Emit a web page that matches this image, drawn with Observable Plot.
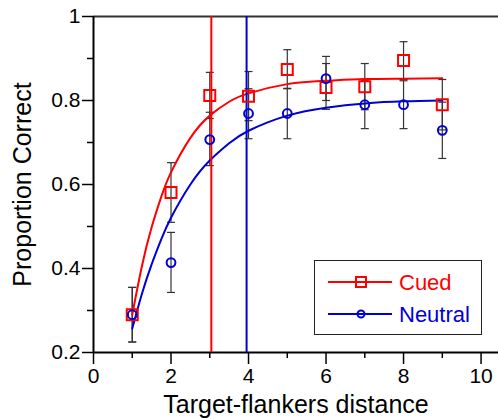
<!DOCTYPE html>
<html><head><meta charset="utf-8">
<script src="https://cdn.jsdelivr.net/npm/d3@7"></script>
<script src="https://cdn.jsdelivr.net/npm/@observablehq/plot@0.6"></script>
<style>
body{margin:0;background:#fff;}
#wrap{position:relative;width:498px;height:419px;font-family:"Liberation Sans",Arial,Helvetica,sans-serif;}
#wrap svg g[aria-label="x-axis label"], #wrap svg g[aria-label="y-axis label"]{font-size:25px;}
#legend{position:absolute;left:314px;top:260px;width:166px;height:73px;border:1.6px solid #222;background:#fff;}
#legend text{font-family:"Liberation Sans",Arial,Helvetica,sans-serif;font-size:22px;}
</style></head><body><div id="wrap"></div>
<script>
// ---- data ----
const distances   = [1, 2, 3, 4, 5, 6, 7, 8, 9];
const cuedMean    = [0.290, 0.581, 0.812, 0.810, 0.874, 0.831, 0.833, 0.895, 0.790];
const cuedLow     = [0.225, 0.510, 0.757, 0.752, 0.828, 0.779, 0.778, 0.850, 0.730];
const cuedHigh    = [0.355, 0.652, 0.867, 0.869, 0.921, 0.888, 0.888, 0.940, 0.850];
const neutralMean = [0.290, 0.414, 0.707, 0.769, 0.769, 0.852, 0.790, 0.790, 0.729];
const neutralLow  = [0.225, 0.343, 0.645, 0.709, 0.709, 0.800, 0.733, 0.733, 0.662];
const neutralHigh = [0.355, 0.486, 0.772, 0.828, 0.829, 0.905, 0.847, 0.847, 0.796];

// fitted curves
const fitX        = [1, 1.25, 1.5, 1.75, 2, 2.5, 3, 3.5, 4, 5, 6, 7, 8, 9];
const cuedFit     = [0.290, 0.406, 0.498, 0.571, 0.629, 0.711, 0.764, 0.797, 0.817, 0.839, 0.847, 0.851, 0.852, 0.853];
const neutralFit  = [0.257, 0.340, 0.410, 0.470, 0.521, 0.600, 0.657, 0.698, 0.728, 0.764, 0.783, 0.793, 0.798, 0.800];

// threshold distances (vertical lines)
const cuedThreshold = 3.04;
const neutralThreshold = 3.95;

const xDomain = [0, 10.45];
const yDomain = [0.2, 1];
const xMajor = [0, 2, 4, 6, 8, 10];
const xMinor = [1, 3, 5, 7, 9];
const yMajor = [0.2, 0.4, 0.6, 0.8, 1];
const yMinor = [0.3, 0.5, 0.7, 0.9];

const seriesNames = ["Cued", "Neutral"];
const RED = "#ff0000", BLUE = "#0000d4";

// ---- tables ----
const points = [];
distances.forEach((d, i) => {
  points.push({series: "Cued", x: d, y: cuedMean[i], lo: cuedLow[i], hi: cuedHigh[i]});
  points.push({series: "Neutral", x: d, y: neutralMean[i], lo: neutralLow[i], hi: neutralHigh[i]});
});
const caps = points.flatMap(p => [{x: p.x, y: p.lo}, {x: p.x, y: p.hi}]);
const cuedCurve = fitX.map((x, i) => ({x, y: cuedFit[i]}));
const neutralCurve = fitX.map((x, i) => ({x, y: neutralFit[i]}));

const capSymbol = {draw(ctx) { ctx.moveTo(-4, 0); ctx.lineTo(4, 0); }};
const noLabel = () => "";

const chart = Plot.plot({
  width: 498, height: 419,
  marginLeft: 93, marginRight: 0, marginTop: 16, marginBottom: 67,
  style: {fontFamily: '"Liberation Sans", Arial, Helvetica, sans-serif', fontSize: "21px", color: "black", background: "white"},
  x: {domain: xDomain},
  y: {domain: yDomain},
  marks: [
    // axes
    Plot.axisY({ticks: yMinor, tickSize: 6, tickFormat: noLabel, stroke: "black", strokeWidth: 1.5, label: null}),
    Plot.axisY({ticks: yMajor, tickSize: 11, tickPadding: 2, tickFormat: d3.format("~g"), stroke: "black", strokeWidth: 1.5, fill: "black",
      label: "Proportion Correct", labelAnchor: "center", labelArrow: "none", labelOffset: 80}),
    Plot.axisX({ticks: xMinor, tickSize: 6, tickFormat: noLabel, stroke: "black", strokeWidth: 1.5, label: null}),
    Plot.axisX({ticks: xMajor, tickSize: 12, tickPadding: 4, tickFormat: d3.format("~g"), stroke: "black", strokeWidth: 1.5, fill: "black",
      label: "Target-flankers distance", labelAnchor: "center", labelArrow: "none", labelOffset: 60}),
    Plot.ruleY([yDomain[1]], {stroke: "#333", strokeWidth: 2}),
    Plot.ruleX([xDomain[0]], {stroke: "black", strokeWidth: 2}),
    Plot.ruleY([yDomain[0]], {stroke: "black", strokeWidth: 2}),
    // error bars
    Plot.ruleX(points, {x: "x", y1: "lo", y2: "hi", stroke: "#333", strokeWidth: 1.2}),
    Plot.dot(caps, {x: "x", y: "y", symbol: capSymbol, fill: "none", stroke: "#333", strokeWidth: 1.2}),
    // fitted curves
    Plot.line(cuedCurve, {x: "x", y: "y", stroke: RED, strokeWidth: 2, curve: "natural"}),
    Plot.line(neutralCurve, {x: "x", y: "y", stroke: BLUE, strokeWidth: 2, curve: "natural"}),
    // thresholds
    Plot.ruleX([cuedThreshold], {stroke: RED, strokeWidth: 2}),
    Plot.ruleX([neutralThreshold], {stroke: BLUE, strokeWidth: 2}),
    // markers
    Plot.dot(points.filter(p => p.series === "Cued"), {x: "x", y: "y", symbol: "square", r: 6.2, fill: "none", stroke: RED, strokeWidth: 2}),
    Plot.dot(points.filter(p => p.series === "Neutral"), {x: "x", y: "y", symbol: "circle", r: 4.4, fill: "none", stroke: BLUE, strokeWidth: 2})
  ]
});
const wrap = document.getElementById("wrap");
wrap.appendChild(chart);

// legend
const legend = document.createElement("div");
legend.id = "legend";
const colors = [RED, BLUE];
const rows = [21, 53];
legend.innerHTML = `<svg width="166" height="73">${seriesNames.map((name, i) => `
  <line x1="13" x2="77" y1="${rows[i]}" y2="${rows[i]}" stroke="${colors[i]}" stroke-width="2"/>
  ${i === 0
    ? `<rect x="41" y="${rows[i]-5}" width="10" height="10" fill="none" stroke="${colors[i]}" stroke-width="2"/>`
    : `<circle cx="46" cy="${rows[i]}" r="3.5" fill="none" stroke="${colors[i]}" stroke-width="2"/>`}
  <text x="84" y="${rows[i]}" dy="0.35em" fill="${colors[i]}">${name}</text>`).join("")}
</svg>`;
wrap.appendChild(legend);
</script>
</body></html>
